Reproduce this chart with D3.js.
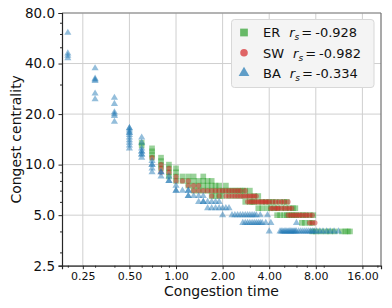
<!DOCTYPE html>
<html><head><meta charset="utf-8">
<script src="https://cdn.jsdelivr.net/npm/d3@7"></script>
<style>body{margin:0;background:#fff}svg{display:block;font-family:"DejaVu Sans",sans-serif}</style>
</head><body><svg id="c" width="392" height="308"></svg>
<script>
// ---- data ----
const xTicks = [0.25, 0.5, 1, 2, 4, 8, 16];
const yTicks = [2.5, 5, 10, 20, 40, 80];
const xMinor = [0.2, 0.3, 0.4, 0.6, 0.7, 0.8, 0.9, 3, 5, 6, 7, 9, 20];
const yMinor = [3, 4, 6, 7, 8, 9, 30, 50, 60, 70];
const seriesNames = ["ER", "SW", "BA"];
const seriesRs = ["-0.928", "-0.982", "-0.334"];

const erPoints = [
  [0.6,13.5],[0.6,13],
  [0.7,12.5],[0.7,12],[0.7,11.5],[0.7,11],
  [0.8,11],[0.8,10.5],[0.8,10],[0.8,9.5],
  [0.9,10],[0.9,9.5],[0.9,9],[0.9,8.5],
  [1.0,9.5],[1.0,9],[1.0,8.5],[1.0,8],
  [1.1,8.5],[1.2,8.5],[1.3,8.5],[1.5,8.5],
  [1.1,8],[1.2,8],[1.3,8],[1.4,8],[1.5,8],[1.6,8],[1.7,8],
  [1.2,7.5],[1.3,7.5],[1.4,7.5],[1.5,7.5],[1.6,7.5],[1.7,7.5],[1.8,7.5],[1.9,7.5],[2.1,7.5],
  [1.3,7],[1.4,7],[1.5,7],[1.6,7],[1.7,7],[1.8,7],[1.9,7],[2.0,7],[2.1,7],[2.2,7],[2.3,7],[2.4,7],[2.5,7],[2.6,7],[2.7,7],[2.8,7],[3.0,7],
  [1.7,6.5],[1.8,6.5],[1.9,6.5],[2.0,6.5],[2.2,6.5],[2.4,6.5],[2.6,6.5],[2.8,6.5],[3.0,6.5],[3.2,6.5],[3.4,6.5],
  [2.8,6],[3.0,6],[3.1,6],[3.2,6],[3.4,6],[3.6,6],[3.8,6],[4.0,6],[4.2,6],[4.4,6],[4.7,6],[5.0,6],[5.2,6],
  [3.4,5.5],[3.6,5.5],[3.9,5.5],[4.1,5.5],[4.3,5.5],[4.5,5.5],[4.8,5.5],[5.1,5.5],[5.4,5.5],[5.7,5.5],[5.9,5.5],
  [4.5,5],[4.7,5],[5.0,5],[5.2,5],[5.4,5],[5.6,5],[5.8,5],[6.0,5],[6.3,5],[6.6,5],[6.9,5],[7.3,5],[7.7,5],
  [6.5,4.5],[6.8,4.5],[7.3,4.5],[7.6,4.5],
  [7.6,4],[8.0,4],[8.6,4],[9.3,4],[9.9,4],[10.6,4],[11.8,4],[12.4,4],[12.9,4],[13.3,4]
];
const swPoints = [
  [0.7,11],
  [0.8,10],[0.8,9.5],[0.8,9],
  [0.9,9.5],[0.9,9],
  [1.0,8.5],[1.0,8],
  [1.1,8],[1.2,8],
  [1.2,7.5],[1.3,7.5],[1.4,7.5],
  [1.3,7],[1.4,7],[1.5,7],[1.6,7],[1.7,7],[1.8,7],[1.9,7],[2.0,7],[2.1,7],[2.2,7],[2.3,7],[2.4,7],[2.5,7],[2.6,7],[2.8,7],
  [1.7,6.5],[1.9,6.5],[2.1,6.5],[2.2,6.5],[2.3,6.5],[2.4,6.5],[2.5,6.5],[2.6,6.5],[2.7,6.5],[2.8,6.5],[2.9,6.5],[3.0,6.5],[3.1,6.5],[3.2,6.5],[3.3,6.5],
  [2.9,6],[3.0,6],[3.1,6],[3.2,6],[3.3,6],[3.4,6],[3.5,6],[3.6,6],[3.7,6],[3.8,6],[3.9,6],[4.0,6],[4.2,6],[4.4,6],[4.6,6],[4.8,6],[5.0,6],[5.3,6],
  [4.1,5.5],[4.2,5.5],[4.4,5.5],[4.5,5.5],[4.6,5.5],[4.8,5.5],[5.0,5.5],[5.2,5.5],[5.4,5.5],[5.6,5.5],
  [5.3,5],[5.5,5],[5.7,5],[5.9,5],[6.1,5],[6.3,5],[6.5,5],[6.8,5],[7.0,5],[7.3,5],[7.6,5],
  [7.3,4.5],[7.6,4.5],[7.9,4.5]
];
const baPoints = [
  [0.2,61],[0.2,46],[0.2,44.5],[0.2,43],
  [0.3,37.5],[0.3,32.5],[0.3,32],[0.3,31.5],[0.3,26.5],[0.3,24.5],
  [0.4,25],[0.4,23],[0.4,20.5],[0.4,20],[0.4,19.5],[0.4,18],
  [0.5,16.5],[0.5,16.5],[0.5,16],[0.5,15.5],[0.5,15.5],[0.5,15],[0.5,14.5],[0.5,14],[0.5,13.5],[0.5,13],[0.5,12.5],
  [0.6,14.5],[0.6,13.5],[0.6,12.5],[0.6,12],[0.6,12],[0.6,11.5],[0.6,11.5],[0.6,11],
  [0.7,10.5],[0.7,10],[0.7,10],[0.7,9.5],[0.7,9],
  [0.8,9],[0.8,9],[0.8,8.5],
  [0.9,8.5],[0.9,8],[0.9,8],
  [1.0,7.5],[1.0,7],[1.0,7],
  [1.1,7],[1.2,7],[1.2,7],
  [1.2,6.5],[1.2,6.5],[1.3,6.5],[1.4,6.5],[1.5,6.5],
  [1.4,6],[1.5,6],[1.5,6],[1.6,6],[1.7,6],[1.8,6],[1.9,6],
  [1.6,5.5],[1.7,5.5],[1.8,5.5],[1.9,5.5],[2.0,5.5],[2.1,5.5],[2.2,5.5],
  [2.0,5],[2.3,5],[2.4,5],[2.5,5],[2.6,5],[2.7,5],[2.8,5],[2.9,5],[3.0,5],[3.1,5],[3.2,5],[3.3,5],[3.5,5],[3.9,5],
  [2.7,4.5],[2.8,4.5],[2.9,4.5],[3.0,4.5],[3.1,4.5],[3.2,4.5],[3.3,4.5],[3.4,4.5],[3.5,4.5],[3.6,4.5],[3.8,4.5],[4.1,4.5],[6.0,4.5],
  [4.0,4],[4.7,4],[4.8,4],[4.9,4],[5.0,4],[5.1,4],[5.2,4],[5.3,4],[5.4,4],[5.5,4],[5.6,4],[5.7,4],[5.8,4],[5.9,4],[6.0,4],
  [6.2,4],[6.4,4],[6.6,4],[6.8,4],[7.0,4],[7.2,4],[7.4,4],[7.6,4],[7.8,4],[8.1,4],[8.5,4],[8.9,4],[9.4,4],[9.9,4],[10.5,4],[11.2,4]
];
const colors = ["#2ca02c", "#d62728", "#1f77b4"];

// ---- chart ----
const svg = d3.select("#c");
const L = 62, R = 381, T = 13, B = 265.7;
const x = d3.scaleLog().base(2).domain([0.1834, 21.1]).range([L, R]);
const y = d3.scaleLog().base(2).domain([2.5, 80]).range([B, T]);

// grid
const g = svg.append("g");
g.selectAll(".gx").data(xTicks).join("line")
  .attr("x1", d => x(d)).attr("x2", d => x(d)).attr("y1", T).attr("y2", B)
  .attr("stroke", "#cfcfcf").attr("stroke-width", 1);
g.selectAll(".gy").data(yTicks).join("line")
  .attr("y1", d => y(d)).attr("y2", d => y(d)).attr("x1", L).attr("x2", R)
  .attr("stroke", "#cfcfcf").attr("stroke-width", 1);

// points
const sym = [d3.symbolSquare, d3.symbolCircle, d3.symbolTriangle];
const sizes = [32, 21, 22];
[erPoints, swPoints, baPoints].forEach((pts, i) => {
  svg.append("g").selectAll("path").data(pts).join("path")
    .attr("d", d3.symbol().type(sym[i]).size(sizes[i]))
    .attr("transform", d => `translate(${x(d[0])},${y(d[1])})`)
    .attr("fill", colors[i]).attr("fill-opacity", 0.48);
});

// spines
svg.append("line").attr("x1", L).attr("x2", R).attr("y1", T).attr("y2", T).attr("stroke", "#808080").attr("stroke-width", 1.2);
svg.append("line").attr("x1", R).attr("x2", R).attr("y1", T).attr("y2", B).attr("stroke", "#707070").attr("stroke-width", 1.2);

// axes
const xAxis = svg.append("g").attr("transform", `translate(0,${B})`)
  .call(d3.axisBottom(x).tickValues(xTicks).tickFormat(d3.format(".2f")).tickSize(3.5).tickPadding(3));
const xMin = svg.append("g").attr("transform", `translate(0,${B})`)
  .call(d3.axisBottom(x).tickValues(xMinor).tickFormat("").tickSize(2));
const yAxis = svg.append("g").attr("transform", `translate(${L},0)`)
  .call(d3.axisLeft(y).tickValues(yTicks).tickFormat(d3.format(".1f")).tickSize(3.5).tickPadding(3.5));
const yMin = svg.append("g").attr("transform", `translate(${L},0)`)
  .call(d3.axisLeft(y).tickValues(yMinor).tickFormat("").tickSize(2));
[xAxis, xMin, yAxis, yMin].forEach(a => {
  a.select(".domain").attr("stroke", "#262626").attr("stroke-width", 1.2);
  a.selectAll(".tick line").attr("stroke", "#262626");
  a.selectAll("text").attr("fill", "#111").attr("font-family", "DejaVu Sans");
});
xMin.select(".domain").remove(); yMin.select(".domain").remove();
xAxis.selectAll("text").attr("font-size", 11);
yAxis.selectAll("text").attr("font-size", 13.5);

// axis titles
svg.append("text").attr("x", (L + R) / 2).attr("y", 296).attr("text-anchor", "middle")
  .attr("font-size", 14).attr("fill", "#111").text("Congestion time");
svg.append("text").attr("transform", `translate(21,${(T + B) / 2}) rotate(-90)`).attr("text-anchor", "middle")
  .attr("font-size", 14).attr("fill", "#111").text("Congest centrality");

// legend
const lg = svg.append("g");
lg.append("rect").attr("x", 231.5).attr("y", 19.5).attr("width", 142.5).attr("height", 68).attr("rx", 3)
  .attr("fill", "#f4f4f4").attr("stroke", "#d8d8d8");
const lsizes = [60, 45, 50];
seriesNames.forEach((n, i) => {
  const cy = 32.5 + i * 20.2;
  lg.append("path").attr("d", d3.symbol().type(sym[i]).size(lsizes[i]))
    .attr("transform", `translate(244,${cy})`).attr("fill", colors[i]).attr("fill-opacity", 0.7);
  const t = lg.append("text").attr("x", 263).attr("y", cy + 4.8).attr("font-size", 13).attr("fill", "#111");
  t.append("tspan").text(n);
  t.append("tspan").attr("dx", 9).attr("font-style", "italic").text("r");
  t.append("tspan").attr("dy", 3).attr("font-size", 9).attr("font-style", "italic").text("s");
  t.append("tspan").attr("dy", -3).attr("dx", 2).text("=");
  t.append("tspan").attr("dx", 3).text(seriesRs[i]);
});
</script></body></html>
